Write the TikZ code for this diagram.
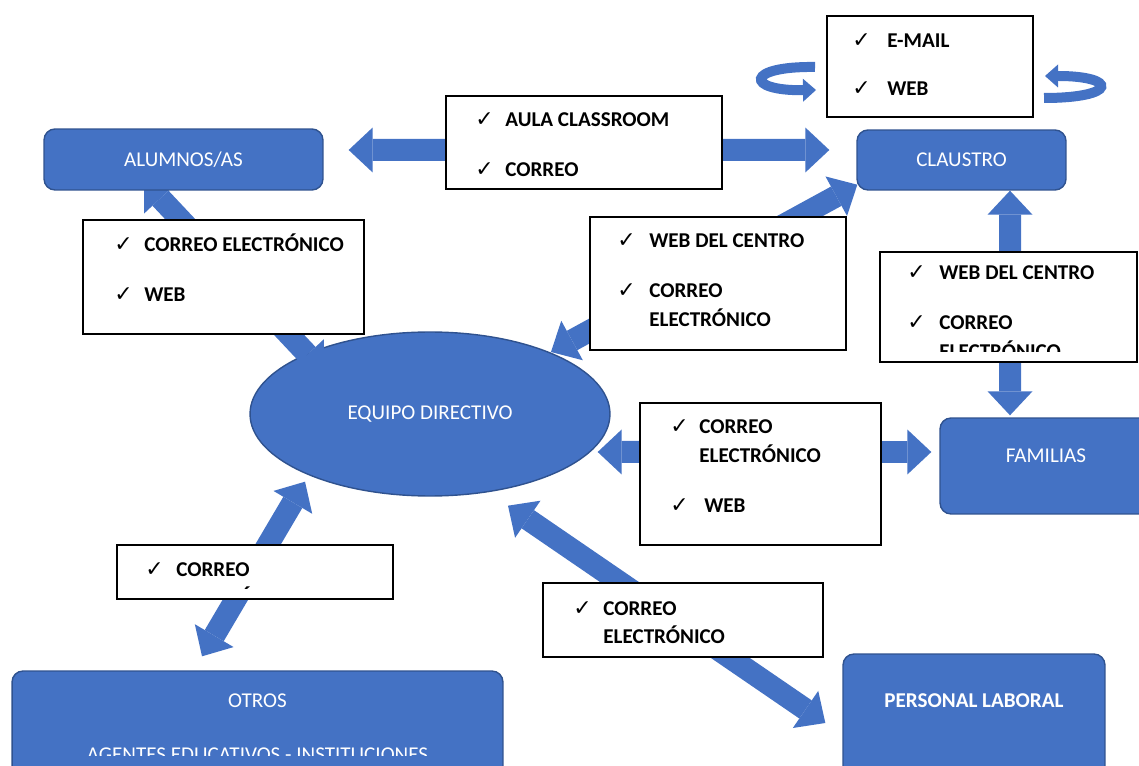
\documentclass[tikz,border=0pt]{standalone}
\usepackage{fontspec}
\setmainfont{Carlito}
\newfontfamily\tickfont{DejaVu Sans}
\usetikzlibrary{arrows.meta,shapes.geometric,positioning}

\definecolor{boxblue}{HTML}{4472C4}
\definecolor{boxedge}{HTML}{2F528F}

\pgfdeclarelayer{back}
\pgfdeclarelayer{arrows}
\pgfsetlayers{back,arrows,main}

\tikzstyle{bluebox} = [draw=boxedge, fill=boxblue, line width=0.8pt, rounded corners=0.22cm, text=white, inner sep=0pt, font=\fontsize{12}{14}\selectfont]
\tikzstyle{boxlabel} = [text=white, inner sep=0pt, font=\fontsize{12}{14}\selectfont]
\tikzstyle{listbox} = [draw=black, fill=white, line width=1.1pt, inner sep=0pt]
\tikzstyle{listtext} = [anchor=base west, inner sep=0pt, font=\bfseries\fontsize{12}{16.5}\selectfont]
\tikzstyle{blockarrow} = [draw=boxblue, line width=0.44cm, {Triangle[width=0.9cm,length=0.48cm,line width=0pt]}-{Triangle[width=0.9cm,length=0.48cm,line width=0pt]}]
\tikzstyle{curlarrow} = [draw=boxblue, line width=0.2cm, -{Triangle[width=0.46cm,length=0.26cm,line width=0pt]}]

\newcommand{\tick}[1][0.6cm]{\makebox[#1][l]{\tickfont\fontsize{12.5}{14}\selectfont ✓}}

\begin{document}
\begin{tikzpicture}[x=0.02cm, y=-0.02cm]
  \useasboundingbox (0,0) rectangle (1139,766);

  % groups
  \node[bluebox, minimum width=5.58cm, minimum height=1.22cm] (alumnos) at (183.5,159.5) {ALUMNOS/AS};
  \node[bluebox, minimum width=4.18cm, minimum height=1.2cm] (claustro) at (961.5,160) {CLAUSTRO};
  \node[bluebox, minimum width=4.24cm, minimum height=1.92cm] (familias) at (1046,466) {};
  \node[boxlabel] (familiastxt) at ([yshift=-0.76cm]familias.north) {FAMILIAS};
  \node[bluebox, minimum width=5.24cm, minimum height=2.6cm] (personal) at (974,719) {};
  \node[boxlabel, font=\bfseries\fontsize{12}{14}\selectfont] (personaltxt) at ([yshift=-0.94cm]personal.north) {PERSONAL LABORAL};
  \node[bluebox, minimum width=9.82cm, minimum height=2.38cm] (otros) at (257.5,730.5) {};
  \node[boxlabel] (otrostxt) at ([yshift=-0.6cm]otros.north) {OTROS};
  \begin{scope}
    \clip (12,671) rectangle (503,755);
    \node[boxlabel] (agentestxt) at ([yshift=-1.68cm]otros.north) {AGENTES EDUCATIVOS - INSTITUCIONES};
  \end{scope}
  \begin{pgfonlayer}{back}
    \node[ellipse, draw=boxedge, fill=boxblue, line width=0.8pt, minimum width=7.2cm, minimum height=3.28cm, text=white, font=\fontsize{12}{14}\selectfont] (equipo) at (430,414) {EQUIPO DIRECTIVO};
  \end{pgfonlayer}

  % channels
  \node[listbox, minimum width=4.12cm, minimum height=2.02cm] (mailbox) at (930,66.5) {};
  \node[listtext] (mailtxt) at (852,48) {\begin{tabular}[t]{@{}l@{}l@{}}\tick[0.7cm] & E-MAIL\\[10.7pt] \tick[0.7cm] & WEB\end{tabular}};

  \node[listbox, minimum width=5.52cm, minimum height=1.86cm] (aulabox) at (584,142.5) {};
  \node[listtext] (aulatxt) at (475,127) {\begin{tabular}[t]{@{}l@{}l@{}}\tick & AULA CLASSROOM\\[11.9pt] \tick & CORREO\end{tabular}};

  \node[listbox, minimum width=5.62cm, minimum height=2.28cm] (alubox) at (223.5,277) {};
  \node[listtext] (alutxt) at (114,252) {\begin{tabular}[t]{@{}l@{}l@{}}\tick & CORREO ELECTRÓNICO\\[11.9pt] \tick & WEB\end{tabular}};

  \node[listbox, minimum width=5.12cm, minimum height=2.66cm] (webbox) at (718,283.5) {};
  \node[listtext] (webtxt) at (617,248) {\begin{tabular}[t]{@{}l@{}l@{}}\tick[0.64cm] & WEB DEL CENTRO\\[11.9pt] \tick[0.64cm] & CORREO\\ & ELECTRÓNICO\end{tabular}};

  \node[listbox, minimum width=5.14cm, minimum height=2.2cm] (famwebbox) at (1008.5,307) {};
  \begin{scope}
    \clip (880,252) rectangle (1137,352);
    \node[listtext] (famwebtxt) at (907,280) {\begin{tabular}[t]{@{}l@{}l@{}}\tick[0.64cm] & WEB DEL CENTRO\\[11.9pt] \tick[0.64cm] & CORREO\\ & ELECTRÓNICO\end{tabular}};
  \end{scope}

  \node[listbox, minimum width=4.82cm, minimum height=2.84cm] (fambox) at (760.5,474) {};
  \node[listtext] (famtxt) at (670,434) {\begin{tabular}[t]{@{}l@{}l@{}}\tick[0.58cm] & CORREO\\ & ELECTRÓNICO\\[11.9pt] \tick[0.58cm] & \hspace{0.1cm}WEB\end{tabular}};

  \node[listbox, minimum width=5.6cm, minimum height=1.48cm] (persbox) at (683,620) {};
  \node[listtext] (perstxt) at (573,615) {\begin{tabular}[t]{@{}l@{}l@{}}\tick & CORREO\\ & ELECTRÓNICO\end{tabular}};

  \node[listbox, minimum width=5.52cm, minimum height=1.08cm] (otrosbox) at (255,572) {};
  \begin{scope}
    \clip (117,545) rectangle (393,588);
    \node[listtext] (otrostxt2) at (145,576) {\begin{tabular}[t]{@{}l@{}l@{}}\tick[0.62cm] & CORREO\\ & ELECTRÓNICO\end{tabular}};
  \end{scope}

  % block arrows
  \begin{pgfonlayer}{arrows}
    \draw[blockarrow] ([xshift=0.5cm,yshift=0.19cm]alumnos.east) -- ([xshift=-0.54cm,yshift=0.2cm]claustro.west);
    \draw[blockarrow] ([xshift=-0.79cm,yshift=0.2cm]alumnos.south) -- ([xshift=-2.12cm,yshift=0.84cm]equipo.center);
    \draw[blockarrow] ([xshift=2.42cm,yshift=1.24cm]equipo.center) -- ([xshift=0.02cm,yshift=0.12cm]claustro.south west);
    \draw[blockarrow] ([xshift=0.97cm]claustro.south) -- ([xshift=-0.72cm,yshift=0.04cm]familias.north);
    \draw[blockarrow] ([xshift=-0.26cm,yshift=-0.76cm]equipo.east) -- ([xshift=-0.16cm,yshift=0.28cm]familias.west);
    \draw[blockarrow] ([xshift=1.56cm,yshift=-0.18cm]equipo.south) -- ([xshift=-0.34cm,yshift=-0.08cm]personal.west);
    \draw[blockarrow] ([xshift=-2.5cm,yshift=0.3cm]equipo.south) -- ([xshift=-1.11cm,yshift=0.28cm]otros.north);
    % loops round the claustro channels
    \draw[curlarrow] (815,67) .. controls (745,66) and (745,91) .. (816,90);
    \draw[curlarrow] (1044,98) .. controls (1118,98) and (1118,76) .. (1045,76);
  \end{pgfonlayer}
\end{tikzpicture}
\end{document}
